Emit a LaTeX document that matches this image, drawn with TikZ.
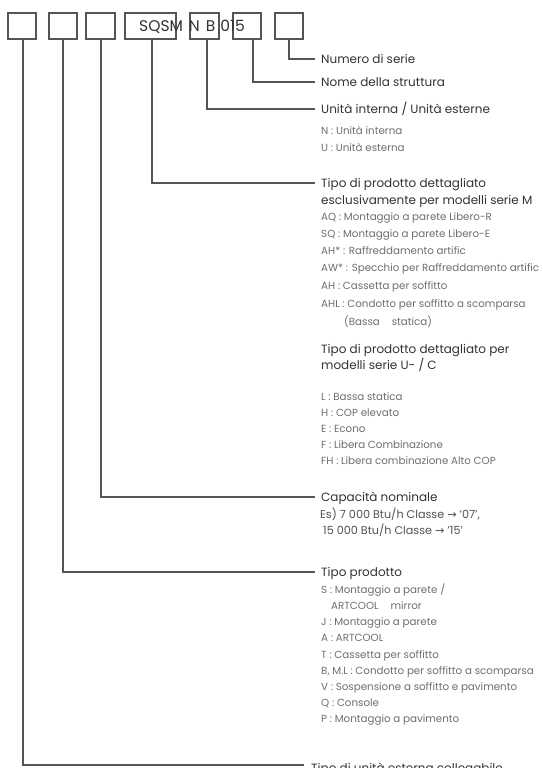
\documentclass[tikz,border=0pt]{standalone}
\usepackage{fontspec}
\setmainfont{Poppins}
\newfontfamily\arrowfont{DejaVu Sans}
\definecolor{linegray}{HTML}{555555}
\definecolor{titlegray}{HTML}{333333}
\definecolor{itemgray}{HTML}{6E6E6E}
\begin{document}
\begin{tikzpicture}[x=1pt,y=-1pt,
  box/.style={draw=linegray,line width=1.1pt,minimum height=26pt,inner sep=0pt},
  conn/.style={draw=linegray,line width=1.1pt},
  ttl/.style={anchor=base west,inner sep=0pt,font=\fontsize{12}{14}\selectfont,text=titlegray},
  itm/.style={anchor=base west,inner sep=0pt,font=\fontsize{10.3}{12}\selectfont,text=itemgray},
  exm/.style={anchor=base west,inner sep=0pt,font=\fontsize{11.2}{13}\selectfont,text=titlegray!85}]
\useasboundingbox[fill=white] (0,0) rectangle (543,768);
% boxes
\node[box,minimum width=28pt] (b1) at (22,26) {};
\node[box,minimum width=28pt] (b2) at (63,26) {};
\node[box,minimum width=29pt] (b3) at (100.5,26) {};
\node[box,minimum width=51pt] (b4) at (150.5,26) {};
\node[box,minimum width=29pt] (b5) at (204.5,26) {};
\node[box,minimum width=28pt] (b6) at (247,26) {};
\node[box,minimum width=28pt] (b7) at (289,26) {};
\node[anchor=base west,inner sep=0pt,font=\fontsize{15.5}{17}\selectfont,text=titlegray] (code) at (139,31.5) {SQSM\hspace{6pt}N\hspace{6pt}B\hspace{5pt}015};
% titles and items
\node[ttl] (tnum) at (321,63.2) {Numero di serie};
\node[ttl] (tnome) at (321,86.2) {Nome della struttura};
\node[ttl] (tunit) at (321,113.2) {Unità interna / Unità esterne};
\node[itm] (iN) at (321,134.6) {N : Unità interna};
\node[itm] (iU) at (321,151.6) {U : Unità esterna};
\node[ttl] (tdet) at (321,187.2) {Tipo di prodotto dettagliato};
\node[ttl] (tdetb) at (321,204.2) {esclusivamente per modelli serie M};
\node[itm] (iAQ) at (321,220.6) {AQ : Montaggio a parete Libero-R};
\node[itm] (iSQ) at (321,237.6) {SQ : Montaggio a parete Libero-E};
\node[itm] (iAHs) at (321,254.6) {AH* : Raffreddamento artific};
\node[itm] (iAW) at (321,271.6) {AW* : Specchio per Raffreddamento artific};
\node[itm] (iAH) at (321,289.6) {AH : Cassetta per soffitto};
\node[itm] (iAHL) at (321,307.6) {AHL : Condotto per soffitto a scomparsa};
\node[itm] (iBassa) at (344,325.6) {(Bassa\hspace{12pt}statica)};
\node[ttl] (tdu) at (321,353.2) {Tipo di prodotto dettagliato per};
\node[ttl] (tdub) at (321,369.2) {modelli serie U- / C};
\node[itm] (iL) at (321,400.6) {L : Bassa statica};
\node[itm] (iH) at (321,416.6) {H : COP elevato};
\node[itm] (iE) at (321,432.6) {E : Econo};
\node[itm] (iF) at (321,448.6) {F : Libera Combinazione};
\node[itm] (iFH) at (321,464.6) {FH : Libera combinazione Alto COP};
\node[ttl] (tcap) at (321,501.2) {Capacità nominale};
\node[exm] (iEs) at (320,518) {Es) 7 000 Btu/h Classe {\arrowfont →} '07',};
\node[exm] (iEs2) at (323,534) {15 000 Btu/h Classe {\arrowfont →} '15'};
\node[ttl] (ttipo) at (321,576.2) {Tipo prodotto};
\node[itm] (iS) at (321,593.6) {S : Montaggio a parete /};
\node[itm] (iART) at (331,609.6) {ARTCOOL\hspace{12pt}mirror};
\node[itm] (iJ) at (321,625.6) {J : Montaggio a parete};
\node[itm] (iA) at (321,641.6) {A : ARTCOOL};
\node[itm] (iT) at (321,658.6) {T : Cassetta per soffitto};
\node[itm] (iB) at (321,674.6) {B, M.L : Condotto per soffitto a scomparsa};
\node[itm] (iV) at (321,690.6) {V : Sospensione a soffitto e pavimento};
\node[itm] (iQ) at (321,706.6) {Q : Console};
\node[itm] (iP) at (321,722.6) {P : Montaggio a pavimento};
\node[ttl] (tuni) at (311,772) {Tipo di unità esterna collegabile};
% connectors
\draw[conn] (b7.south) |- ([xshift=-6pt,yshift=4.2pt]tnum.base west);
\draw[conn] ([xshift=6pt]b6.south) |- ([xshift=-6pt,yshift=4.2pt]tnome.base west);
\draw[conn] ([xshift=2.5pt]b5.south) |- ([xshift=-6pt,yshift=4.2pt]tunit.base west);
\draw[conn] ([xshift=1.5pt]b4.south) |- ([xshift=-6pt,yshift=4.2pt]tdet.base west);
\draw[conn] ([xshift=0.5pt]b3.south) |- ([xshift=-6pt,yshift=4.2pt]tcap.base west);
\draw[conn] (b2.south) |- ([xshift=-6pt,yshift=4.2pt]ttipo.base west);
\draw[conn] ([xshift=1pt]b1.south) |- ([xshift=-7pt,yshift=7pt]tuni.base west);
\end{tikzpicture}
\end{document}
